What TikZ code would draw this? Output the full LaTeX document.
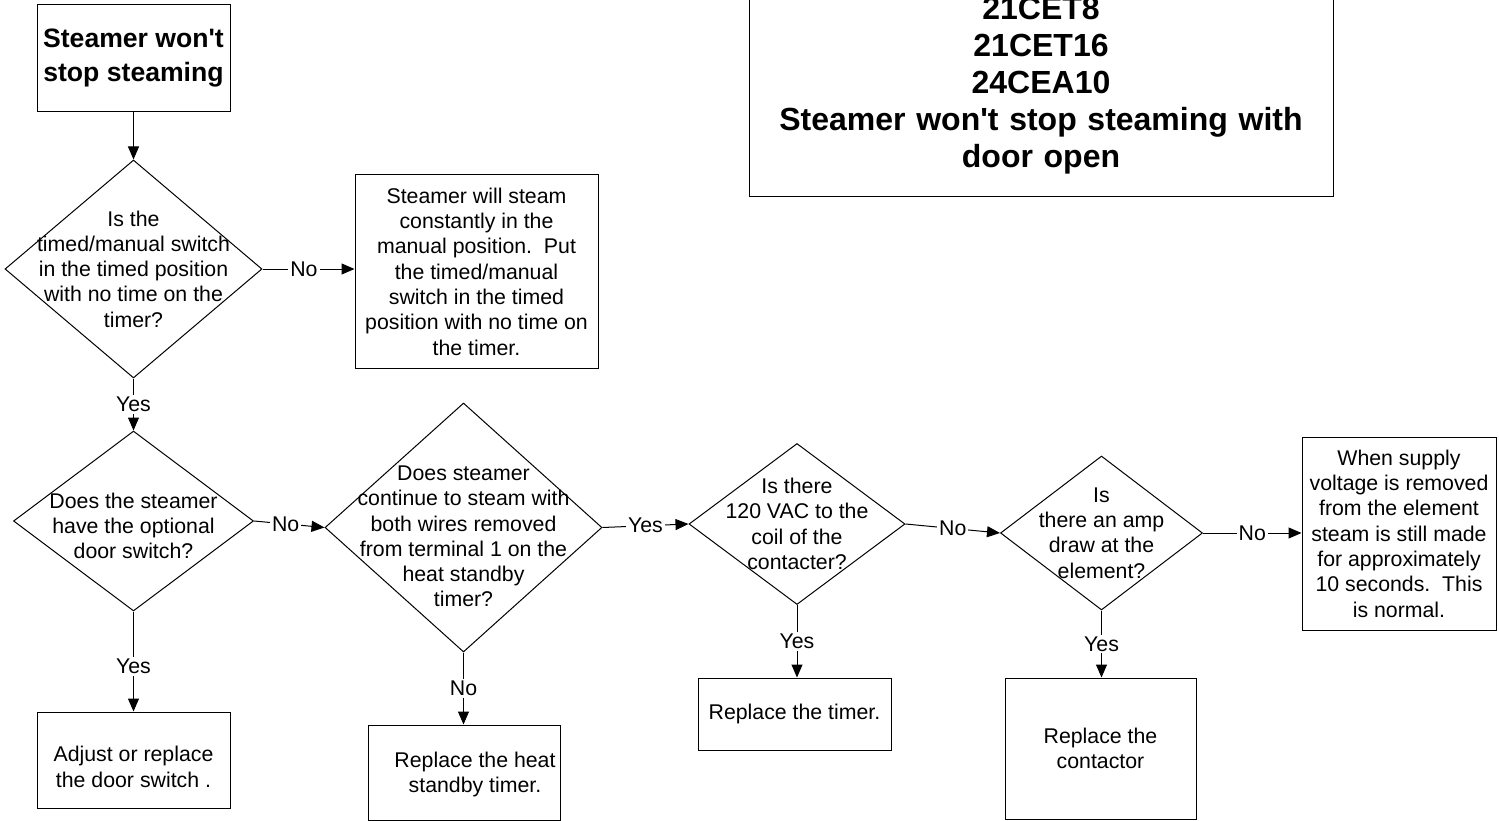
\documentclass[tikz,border=0pt]{standalone}
\usepackage{fontspec}
\setmainfont{Liberation Sans}
\usetikzlibrary{arrows.meta,shapes.geometric,positioning}

\newcommand{\bodyfont}{\fontsize{21.3}{25.3}\selectfont}
\newcommand{\headfont}{\fontsize{26.6}{34}\selectfont\bfseries}
\newcommand{\ttlfont}{\fontsize{32}{37}\selectfont\bfseries}
\newcommand{\apos}{\textquotesingle}

\tikzset{
  box/.style={draw, rectangle, align=center, inner sep=0pt, font=\bodyfont},
  ask/.style={draw, diamond, inner sep=0pt},
  asktext/.style={align=center, inner sep=0pt, font=\bodyfont},
  lbl/.style={fill=white, inner sep=2pt, font=\bodyfont},
}

\begin{document}
\begin{tikzpicture}[x=1pt, y=-1pt, line width=1pt, >={Triangle[length=13pt, width=11pt]}]
  \useasboundingbox (0,0) rectangle (1499,821);
  % title and start
  \node[box, font=\ttlfont, text width=560pt, minimum width=584pt, inner ysep=22pt, anchor=south] (title) at (1041,197) {21CET8\\21CET16\\24CEA10\\Steamer won\apos t stop steaming with\\door open};
  \node[box, font=\headfont, minimum width=193pt, minimum height=107pt] (start) at (133.5,58.5) {Steamer won\apos t\\stop steaming};
  % questions
  \node[ask, minimum width=257pt, minimum height=218pt] (q1) at (133.5,269) {};
  \node[asktext] (q1t) at (q1.center) {Is the\\timed/manual switch\\in the timed position\\with no time on the\\timer?};
  \node[ask, minimum width=240pt, minimum height=180pt] (q2) at (133.5,521) {};
  \node[asktext] (q2t) at ([yshift=-5pt]q2.center) {Does the steamer\\have the optional\\door switch?};
  \node[ask, minimum width=277pt, minimum height=249pt] (q3) at (463.5,527.5) {};
  \node[asktext] (q3t) at ([yshift=-9pt]q3.center) {Does steamer\\continue to steam with\\both wires removed\\from terminal 1 on the\\heat standby\\timer?};
  \node[ask, minimum width=216pt, minimum height=161pt] (q4) at (797,524) {};
  \node[asktext] (q4t) at (q4.center) {Is there\\120 VAC to the\\coil of the\\contacter?};
  \node[ask, minimum width=202pt, minimum height=154pt] (q5) at (1101.5,533) {};
  \node[asktext] (q5t) at (q5.center) {Is\\there an amp\\draw at the\\element?};
  % answers
  \node[box, minimum width=243pt, minimum height=193pt] (manual) at (476.5,271.5) {Steamer will steam\\constantly in the\\manual position.\ \ Put\\the timed/manual\\switch in the timed\\position with no time on\\the timer.};
  \node[box, minimum width=193pt, minimum height=96pt] (door) at (133.5,760) {};
  \node[asktext] (doort) at ([yshift=-7pt]door.center) {Adjust or replace\\the door switch .};
  \node[box, minimum width=192pt, minimum height=95pt] (heat) at (464,772.5) {};
  \node[asktext] (heatt) at ([xshift=11pt, yshift=-2pt]heat.center) {Replace the heat\\standby timer.};
  \node[box, minimum width=193pt, minimum height=72pt] (timer) at (794.5,714) {Replace the timer.};
  \node[box, minimum width=191pt, minimum height=141pt] (contactor) at (1100.5,748.5) {Replace the\\contactor};
  \node[box, minimum width=194pt, minimum height=193pt] (normal) at (1399,533.5) {When supply\\voltage is removed\\from the element\\steam is still made\\for approximately\\10 seconds.\ \ This\\is normal.};
  % connectors
  \draw[->] (start) -- (q1);
  \draw[->] (q1.east) -- node[lbl, pos=0.45] (n1) {No} (q1.east -| manual.west);
  \draw[->] (q1.south) -- node[lbl] (y1) {Yes} (q2.north);
  \draw[->] (q2.south) -- node[lbl, pos=0.55] (y2) {Yes} (door.north);
  \draw[->] (q2.east) -- node[lbl, pos=0.45] (n2) {No} (q3.west);
  \draw[->] (q3.south) -- node[lbl] (n3) {No} (q3.south |- heat.north);
  \draw[->] (q3.east) -- node[lbl] (y3) {Yes} (q4.west);
  \draw[->] (q4.south) -- node[lbl] (y4) {Yes} (q4.south |- timer.north);
  \draw[->] (q4.east) -- node[lbl] (n4) {No} (q5.west);
  \draw[->] (q5.south) -- node[lbl] (y5) {Yes} (q5.south |- contactor.north);
  \draw[->] (q5.east) -- node[lbl] (n5) {No} (q5.east -| normal.west);
\end{tikzpicture}
\end{document}
